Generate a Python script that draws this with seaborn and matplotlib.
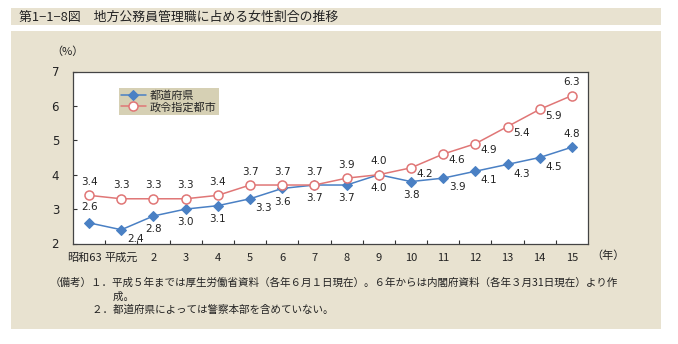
import matplotlib
matplotlib.use("Agg")
import matplotlib.pyplot as plt
import matplotlib.transforms as mtransforms
from matplotlib.patches import Rectangle
import seaborn as sns
import pandas as pd
import numpy as np

years = ["昭和63", "平成元", "2", "3", "4", "5", "6", "7", "8", "9", "10", "11", "12", "13", "14", "15"]
prefectures = [2.6, 2.4, 2.8, 3.0, 3.1, 3.3, 3.6, 3.7, 3.7, 4.0, 3.8, 3.9, 4.1, 4.3, 4.5, 4.8]
cities = [3.4, 3.3, 3.3, 3.3, 3.4, 3.7, 3.7, 3.7, 3.9, 4.0, 4.2, 4.6, 4.9, 5.4, 5.9, 6.3]
series_names = ["都道府県", "政令指定都市"]

title = "第1−1−8図　地方公務員管理職に占める女性割合の推移"
notes = [
    "（備考）１．平成５年までは厚生労働省資料（各年６月１日現在）。６年からは内閣府資料（各年３月31日現在）より作",
    "　　　　　　成。",
    "　　　　２．都道府県によっては警察本部を含めていない。",
]

sns.set_theme(style="white")
plt.rcParams["font.family"] = ["Noto Sans CJK JP", "DejaVu Sans"]

BLUE = "#4a80c4"
RED = "#e07676"
BEIGE = "#e8e2d0"

W, H = 678, 344
fig = plt.figure(figsize=(W / 100, H / 100), dpi=100)
fig.patch.set_facecolor("white")

# background panels
fig.patches.append(Rectangle((11 / W, 1 - 25 / H), (661 - 11) / W, 17 / H,
                             transform=fig.transFigure, facecolor=BEIGE, edgecolor="none", zorder=-5))
fig.patches.append(Rectangle((11 / W, 1 - 329 / H), (661 - 11) / W, (329 - 31) / H,
                             transform=fig.transFigure, facecolor=BEIGE, edgecolor="none", zorder=-5))

ax = fig.add_axes([73 / W, 1 - 243.5 / H, (588 - 73) / W, (243.5 - 71.5) / H])
ax.set_zorder(5)
ax.set_facecolor("white")

x = np.arange(len(years))
df = pd.DataFrame({
    "x": np.concatenate([x, x]),
    "value": prefectures + cities,
    "series": [series_names[0]] * len(x) + [series_names[1]] * len(x),
})

sns.lineplot(data=df[df.series == series_names[0]], x="x", y="value", ax=ax,
             color=BLUE, lw=1.1, marker="D", markersize=5.5, markerfacecolor=BLUE,
             markeredgecolor=BLUE, label=series_names[0], zorder=3)
sns.lineplot(data=df[df.series == series_names[1]], x="x", y="value", ax=ax,
             color=RED, lw=1.1, marker="o", markersize=6.5, markerfacecolor="white",
             markeredgecolor=RED, markeredgewidth=1.1, label=series_names[1], zorder=4)

ax.set_xlim(-0.5, len(years) - 0.5)
ax.set_ylim(2, 7)
ax.set_xlabel("")
ax.set_ylabel("")

# ticks: marks at boundaries, labels at centers
ax.set_xticks(np.arange(0.5, len(years) - 1, 1.0))
ax.set_xticklabels([])
ax.set_xticks(x, minor=True)
ax.set_xticklabels(years, minor=True, fontsize=8, color="#222222")
ax.tick_params(axis="x", which="major", direction="in", length=3, width=0.8, color="#333333", bottom=True)
ax.tick_params(axis="x", which="minor", length=0, pad=6.5)
ax.set_yticks([2, 3, 4, 5, 6, 7])
ax.tick_params(axis="y", direction="in", length=3, width=0.8, color="#333333", left=True,
               labelsize=8.5, labelcolor="#222222", pad=10)
for lbl in ax.get_yticklabels():
    lbl.set_fontfamily(["DejaVu Sans"])

labs = ax.get_xticklabels(minor=True)
labs[0].set_transform(labs[0].get_transform() + mtransforms.ScaledTranslation(-5 / 100, 0, fig.dpi_scale_trans))

for s in ax.spines.values():
    s.set_color("#444444")
    s.set_linewidth(0.9)

# data labels
lab_kw = dict(fontsize=7.5, color="#222222", family=["DejaVu Sans"])
pref_off = {0: (0, 8, "center", "bottom"), 1: (4, -3, "left", "top")}
for i in range(2, 5):
    pref_off[i] = (0, -6, "center", "top")
pref_off[5] = (4, -3, "left", "top")
for i in range(6, 11):
    pref_off[i] = (0, -6, "center", "top")
for i in range(11, 15):
    pref_off[i] = (4, -3, "left", "top")
pref_off[15] = (0, 6, "center", "bottom")
for i, v in enumerate(prefectures):
    dx, dy, ha, va = pref_off[i]
    ax.annotate(f"{v:.1f}", (x[i], v), xytext=(dx, dy), textcoords="offset points", ha=ha, va=va, **lab_kw)

city_off = {}
for i in range(0, 10):
    city_off[i] = (0, 6, "center", "bottom")
for i in range(10, 15):
    city_off[i] = (4, -1, "left", "top")
city_off[15] = (0, 6, "center", "bottom")
for i, v in enumerate(cities):
    dx, dy, ha, va = city_off[i]
    ax.annotate(f"{v:.1f}", (x[i], v), xytext=(dx, dy), textcoords="offset points", ha=ha, va=va, **lab_kw)

leg = ax.legend(loc="upper left", bbox_to_anchor=((119 - 73) / (588 - 73), 1 - (88 - 71.5) / 172),
                frameon=True, fontsize=8, handlelength=2.2, handletextpad=0.4,
                borderpad=0.2, labelspacing=0.1, borderaxespad=0, fancybox=False)
leg.get_frame().set_facecolor("#d6d0b4")
leg.get_frame().set_edgecolor("none")
leg.get_frame().set_alpha(1)

fig.text(19 / W, 1 - 17 / H, title, fontsize=9.3, va="center", ha="left", color="#222222")
fig.text(67 / W, 1 - 52 / H, "（%）", fontsize=8, va="center", ha="center", color="#222222")
fig.text(608 / W, 1 - 256 / H, "（年）", fontsize=8, va="center", ha="center", color="#222222")
for k, line in enumerate(notes):
    fig.text(50 / W, 1 - (283 + 13.5 * k) / H, line, fontsize=7.6, va="center", ha="left", color="#222222")

fig.savefig("out.png", dpi=100, facecolor=fig.get_facecolor())
